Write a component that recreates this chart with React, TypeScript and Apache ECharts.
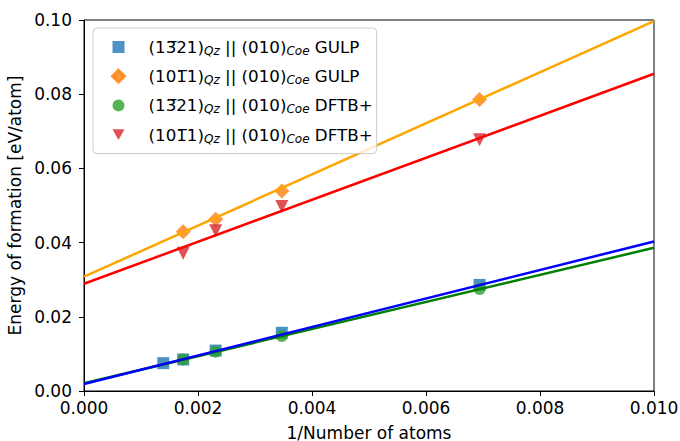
import React, { useEffect, useRef } from "react";
import * as echarts from "echarts";

// Data
const xSquares = [0.00139, 0.00174, 0.00231, 0.00347, 0.00694];
const ySquaresGulp = [0.0075, 0.0085, 0.0109, 0.0157, 0.0286];
const xOthers = [0.00174, 0.00231, 0.00347, 0.00694];
const yDiamondsGulp = [0.0429, 0.0463, 0.0539, 0.0786];
const yCirclesDftb = [0.0085, 0.0106, 0.0148, 0.0275];
const yTrianglesDftb = [0.0371, 0.0432, 0.0497, 0.0677];

const xFit = [0, 0.01];
const fitGreen = [0.0021, 0.0386];
const fitBlue = [0.0019, 0.0403];
const fitRed = [0.0289, 0.0855];
const fitOrange = [0.0308, 0.0997];

const seriesNames = ["sqGulp", "diaGulp", "circDftb", "triDftb"];
const legendLabels: Record<string, string> = {
  sqGulp: "{g|}(13\u030521){s|Qz} || (010){s|Coe} GULP",
  diaGulp: "{g|}(101\u03051){s|Qz} || (010){s|Coe} GULP",
  circDftb: "{g|}(13\u030521){s|Qz} || (010){s|Coe} DFTB+",
  triDftb: "{g|}(101\u03051){s|Qz} || (010){s|Coe} DFTB+",
};

const zip = (xs: number[], ys: number[]) => xs.map((x, i) => [x, ys[i]]);

const FONT = "DejaVu Sans";
const FS = 17;
const LFS = 16.7;

export default function App() {
  const ref = useRef<HTMLDivElement>(null);
  useEffect(() => {
    if (!ref.current) return;
    const chart = echarts.init(ref.current, null, { renderer: "svg" });
    const option: any = {
      animation: false,
      backgroundColor: "#ffffff",
      textStyle: { fontFamily: FONT, color: "#000" },
      grid: {
        left: 84,
        right: 26,
        top: 20,
        bottom: 50,
        containLabel: false,
        outerBoundsMode: "none",
        show: true,
        borderColor: "#000",
        borderWidth: 1,
        backgroundColor: "transparent",
      },
      xAxis: {
        type: "value",
        min: 0,
        max: 0.01,
        interval: 0.002,
        name: "1/Number of atoms",
        nameLocation: "middle",
        nameGap: 33,
        nameTextStyle: { fontSize: FS, color: "#000", fontFamily: FONT },
        axisLine: { show: true, lineStyle: { color: "#000", width: 1 } },
        axisTick: { show: true, length: 5, lineStyle: { color: "#000", width: 1 } },
        axisLabel: {
          fontSize: FS,
          color: "#000",
          fontFamily: FONT,
          margin: 8,
          formatter: (v: number) => v.toFixed(3),
        },
        splitLine: { show: false },
      },
      yAxis: {
        type: "value",
        min: 0,
        max: 0.1,
        interval: 0.02,
        name: "Energy of formation [eV/atom]",
        nameLocation: "middle",
        nameGap: 48,
        nameTextStyle: { fontSize: FS, color: "#000", fontFamily: FONT },
        axisLine: { show: true, lineStyle: { color: "#000", width: 1 } },
        axisTick: { show: true, length: 5, lineStyle: { color: "#000", width: 1 } },
        axisLabel: {
          fontSize: FS,
          color: "#000",
          fontFamily: FONT,
          margin: 12,
          formatter: (v: number) => v.toFixed(2),
        },
        splitLine: { show: false },
      },
      legend: {
        orient: "vertical",
        left: 93,
        top: 28,
        padding: [9, 4, 9, 18],
        itemGap: 9.2,
        itemWidth: 12,
        itemHeight: 12,
        backgroundColor: "rgba(255,255,255,0.8)",
        borderColor: "#cccccc",
        borderWidth: 1,
        borderRadius: 4,
        data: [
          { name: "sqGulp", icon: "rect" },
          { name: "diaGulp", icon: "diamond", itemStyle: { borderColor: "#ff7f0e", borderWidth: 3 } },
          { name: "circDftb", icon: "circle" },
          { name: "triDftb", icon: "path://M0,0 L10,0 L5,9 Z" },
        ],
        formatter: (name: string) => legendLabels[name],
        textStyle: {
          fontSize: LFS,
          fontFamily: FONT,
          color: "#000",
          lineHeight: 20,
          rich: {
            g: { width: 19 },
            s: {
              fontSize: 12,
              fontStyle: "italic",
              fontFamily: FONT,
              color: "#000",
              verticalAlign: "bottom",
              lineHeight: 13,
            },
          },
        },
      },
      series: [
        {
          name: seriesNames[0],
          type: "scatter",
          symbol: "rect",
          symbolSize: 12,
          itemStyle: { color: "#1f77b4" },
          data: zip(xSquares, ySquaresGulp),
          z: 2,
        },
        {
          name: seriesNames[1],
          type: "scatter",
          symbol: "diamond",
          symbolSize: 15,
          itemStyle: { color: "#ff7f0e" },
          data: zip(xOthers, yDiamondsGulp),
          z: 2,
        },
        {
          name: seriesNames[2],
          type: "scatter",
          symbol: "circle",
          symbolSize: 12,
          itemStyle: { color: "#2ca02c" },
          data: zip(xOthers, yCirclesDftb),
          z: 2,
        },
        {
          name: seriesNames[3],
          type: "scatter",
          symbol: "triangle",
          symbolRotate: 180,
          symbolSize: 13,
          itemStyle: { color: "#d62728" },
          data: zip(xOthers, yTrianglesDftb),
          z: 2,
        },
        {
          name: "fitGreen",
          type: "line",
          showSymbol: false,
          symbol: "none",
          lineStyle: { color: "#008000", width: 2.5 },
          data: zip(xFit, fitGreen),
          z: 3,
        },
        {
          name: "fitBlue",
          type: "line",
          showSymbol: false,
          symbol: "none",
          lineStyle: { color: "#0000ff", width: 2.5 },
          data: zip(xFit, fitBlue),
          z: 3,
        },
        {
          name: "fitRed",
          type: "line",
          showSymbol: false,
          symbol: "none",
          lineStyle: { color: "#ff0000", width: 2.5 },
          data: zip(xFit, fitRed),
          z: 3,
        },
        {
          name: "fitOrange",
          type: "line",
          showSymbol: false,
          symbol: "none",
          lineStyle: { color: "#ffa500", width: 2.5 },
          data: zip(xFit, fitOrange),
          z: 3,
        },
      ],
    };
    chart.setOption(option);
    return () => chart.dispose();
  }, []);
  return <div ref={ref} style={{ width: 680, height: 441, position: "absolute", left: 0, top: 0 }} />;
}
